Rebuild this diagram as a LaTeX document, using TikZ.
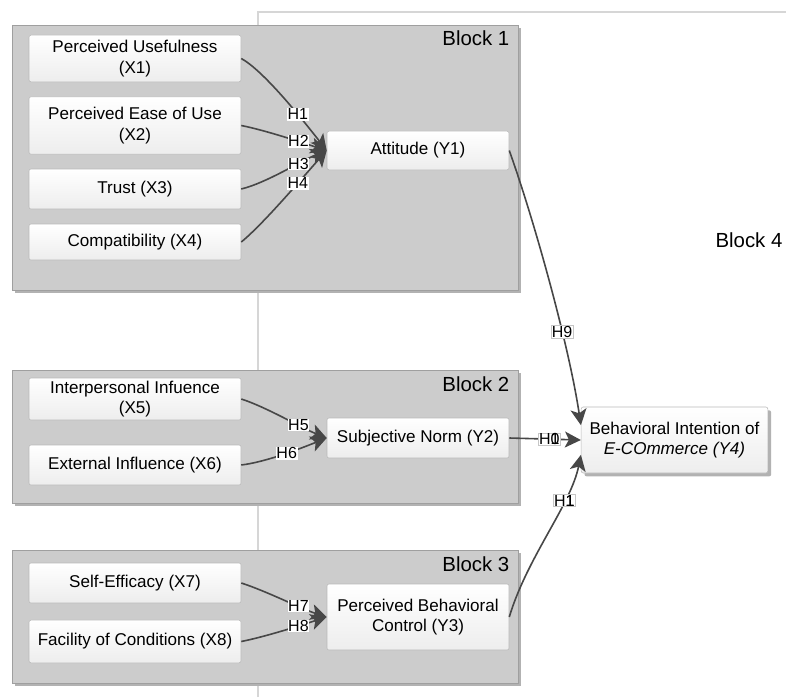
\documentclass[tikz,border=0pt]{standalone}
\usepackage{fontspec}
\setmainfont{Liberation Sans}
\usetikzlibrary{arrows.meta}
\usetikzlibrary{shadows}

\definecolor{blockgray}{HTML}{CCCCCC}
\definecolor{shadegray}{HTML}{B2B2B2}
\definecolor{framegray}{HTML}{D6D6D6}
\definecolor{linegray}{HTML}{474747}

\begin{document}
\begin{tikzpicture}[x=0.75pt, y=-0.75pt, >={Stealth[length=12pt,width=12pt,inset=3pt]},
    var/.style={draw=gray!55, rounded corners=1.5pt, top color=white, bottom color=gray!14,
      align=center, minimum width=159pt, inner sep=2pt, font=\fontsize{12.8}{15.2}\selectfont},
    dep/.style={var, minimum width=136.5pt},
    block/.style={fill=blockgray, draw=gray!75, line width=0.6pt},
    blocklabel/.style={font=\fontsize{15.3}{17}\selectfont},
    edge/.style={->, draw=linegray, line width=1.2pt},
    hyp/.style={fill=white, text=black, inner sep=0.5pt, font=\fontsize{12}{13}\selectfont},
    hypbox/.style={hyp, draw=gray!45, line width=0.4pt}]

    \useasboundingbox (0,0) rectangle (786,697);

    % Block 4 frame
    \draw[framegray, line width=1.6pt] (258,697) -- (258,12) -- (786,12);
    \node[blocklabel] (b4) at (749,240) {Block 4};

    % Blocks
    \foreach \t/\b/\n in {25/290/1, 370/503/2, 550/683/3} {
        \fill[shadegray] (15,\t+3) rectangle (521,\b+3);
        \draw[block] (12,\t) rectangle (518,\b);
        \node[blocklabel, anchor=north east] at (514,\t+1.5) {Block \n};
    }

    % Nodes
    \node[var, minimum height=35pt] (x1) at (135,58.5)  {Perceived Usefulness\\(X1)};
    \node[var, minimum height=43pt] (x2) at (135,125.5) {Perceived Ease of Use\\(X2)};
    \node[var, minimum height=30pt] (x3) at (135,189)   {Trust (X3)};
    \node[var, minimum height=27pt] (x4) at (135,242)   {Compatibility (X4)};
    \node[dep, minimum height=29pt] (y1) at (418,150.5) {Attitude (Y1)};

    \node[var, minimum height=31.5pt] (x5) at (135,399) {Interpersonal Infuence\\(X5)};
    \node[var, minimum height=30pt]   (x6) at (135,465) {External Influence (X6)};
    \node[dep, minimum height=30pt]   (y2) at (418,438) {Subjective Norm (Y2)};

    \node[var, minimum height=30pt]   (x7) at (135,583)   {Self-Efficacy (X7)};
    \node[var, minimum height=32pt]   (x8) at (135,641.5) {Facility of Conditions (X8)};
    \node[dep, minimum height=49.5pt] (y3) at (418,617)   {Perceived Behavioral\\Control (Y3)};

    \node[var, minimum width=140pt, minimum height=49.5pt,
          drop shadow={shadow xshift=2.5pt, shadow yshift=-2.5pt, fill=shadegray, opacity=1}]
          (y4) at (674.5,440) {Behavioral Intention of\\\textit{E-COmmerce (Y4)}};

    % Edges
    \draw[edge] (x1.east) .. controls +(22,12) and +(-25,-32) .. node[hyp, pos=0.66] {H1} (y1.west);
    \draw[edge] (x2.east) .. controls +(25,5) and +(-25,-8) .. node[hyp, pos=0.66] {H2} (y1.west);
    \draw[edge] (x3.east) .. controls +(25,-6) and +(-25,10) .. node[hyp, pos=0.66] {H3} (y1.west);
    \draw[edge] (x4.east) .. controls +(22,-18) and +(-25,28) .. node[hyp, pos=0.66] {H4} (y1.west);

    \draw[edge] (x5.east) .. controls +(25,8) and +(-25,-10) .. node[hyp, pos=0.66] {H5} (y2.west);
    \draw[edge] (x6.east) .. controls +(25,-3) and +(-25,10) .. node[hyp, pos=0.53] {H6} (y2.west);

    \draw[edge] (x7.east) .. controls +(25,8) and +(-25,-8) .. node[hyp, pos=0.66] {H7} (y3.west);
    \draw[edge] (x8.east) .. controls +(25,-5) and +(-25,8) .. node[hyp, pos=0.66] {H8} (y3.west);

    \draw[edge] (y1.east) .. controls +(25,70) and +(-12,-80) .. node[hypbox, pos=0.66] {H9} (y4.171);
    \draw[edge] (y2.east) -- node[hypbox, pos=0.56] {H\rlap{1}0} (y4.west);
    \draw[edge] (y3.east) .. controls +(18,-60) and +(-10,50) .. node[hypbox, pos=0.7] {H\rlap{1}1} (y4.189);

\end{tikzpicture}
\end{document}
